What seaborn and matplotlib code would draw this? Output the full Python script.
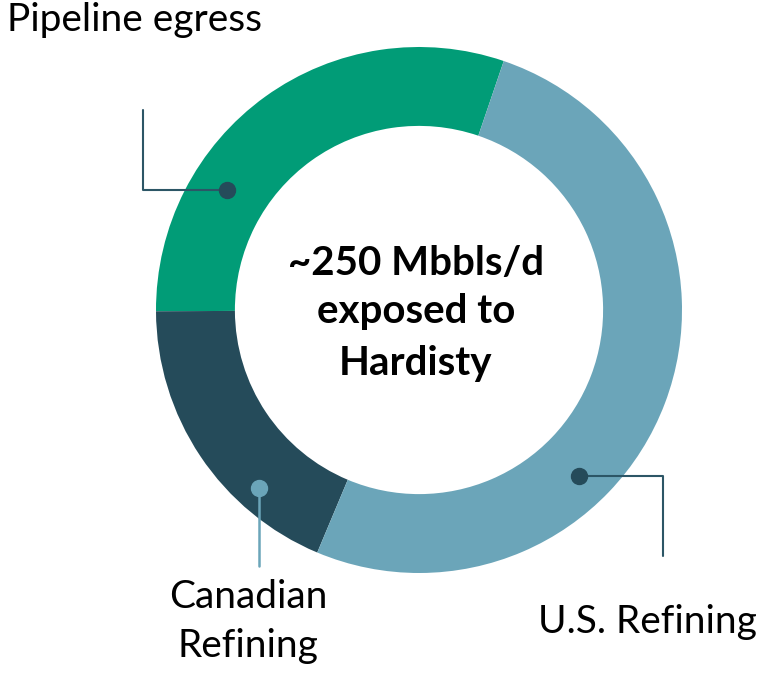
import numpy as np
import matplotlib
matplotlib.use("Agg")
import matplotlib.pyplot as plt
import seaborn as sns

# share of ~250 Mbbls/d (percent)
segments = ["Pipeline egress", "Canadian Refining", "U.S. Refining"]
shares = [30.3, 18.6, 51.1]
colors = ["#019C77", "#254B5A", "#6BA5B9"]
center_lines = ["~250 Mbbls/d", "exposed to", "Hardisty"]

sns.set_theme(style="white")
plt.rcParams["font.family"] = ["Lato", "DejaVu Sans"]

W, H = 760, 673
fig = plt.figure(figsize=(W / 100, H / 100), dpi=100)
ax = fig.add_axes([0, 0, 1, 1])

cx, cy = 419, H - 310
R, ring = 263, 0.30
start = 71.2

ax.pie(shares, colors=colors, startangle=start, counterclock=True,
       center=(cx, cy), radius=R,
       wedgeprops=dict(width=R * ring, linewidth=0))

ax.set_xlim(0, W)
ax.set_ylim(0, H)
ax.set_aspect("equal")
ax.axis("off")


def py(y):
    return H - y


line_dark = "#2C5666"
# Pipeline egress leader
ax.plot([227, 143, 143], [py(190), py(190), py(110)], color=line_dark, lw=1.5, zorder=3)
ax.plot(227, py(190), "o", ms=11.5, color="#254B5A", zorder=4)
# Canadian Refining leader
ax.plot([259, 259], [py(488), py(566)], color="#6BA5B9", lw=1.8, zorder=3)
ax.plot(259, py(488), "o", ms=11.5, color="#6BA5B9", zorder=4)
# U.S. Refining leader
ax.plot([579, 663, 663], [py(476), py(476), py(556)], color=line_dark, lw=1.5, zorder=3)
ax.plot(579, py(476), "o", ms=11.5, color="#254B5A", zorder=4)

fs = 28
ax.text(7, py(31), segments[0], fontsize=fs, ha="left", va="baseline", color="black")
ax.text(248, py(608), "Canadian", fontsize=fs, ha="center", va="baseline", color="black")
ax.text(248, py(657), "Refining", fontsize=fs, ha="center", va="baseline", color="black")
ax.text(757, py(633), segments[2], fontsize=fs, ha="right", va="baseline", color="black")

for txt, yb in zip(center_lines, [275, 323, 375]):
    ax.text(416, py(yb), txt, fontsize=29, fontweight="bold", ha="center",
            va="baseline", color="black")

fig.savefig("out.png", dpi=100)
